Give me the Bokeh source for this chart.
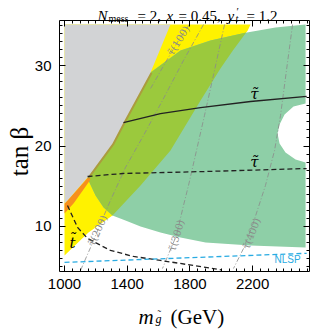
import math
from bokeh.plotting import figure
from bokeh.models import LinearAxis, FixedTicker, CustomJSTickFormatter
from bokeh.embed import file_html
from bokeh.resources import INLINE
from bokeh.core.properties import value

# ---------------- data (gluino mass [GeV], tan beta) ----------------
BOX_X = (968, 2563)          # plotted range of m_gluino
BOX_Y = (4.4, 35.6)          # plotted range of tan beta
X_TICKS = [1000, 1400, 1800, 2200]
Y_TICKS = [10, 20, 30]
X_MINOR = list(range(1000, 2561, 50))
Y_MINOR = list(range(5, 36))

# excluded (gray) region boundary
gray_x = [1000, 1676, 1549, 1376, 1306, 1147, 1019, 1000]
gray_y = [35.1, 35.1, 29.13, 22.92, 20.31, 16.09, 13.23, 12.86]

# orange strip below the gray region
orange_x = [1160, 1019, 1000, 1000, 1060, 1165]
orange_y = [16.3, 13.23, 12.86, 11.6, 12.9, 15.8]

# yellow region
yellow_x = [1000, 2187, 2168, 2074, 1995, 1868, 1676, 1485, 1306, 1153, 1000]
yellow_y = [35.1, 35.1, 34.34, 31.86, 29.62, 25.65, 19.44, 15.09, 11.37, 9.25, 6.40]

# green region (with notch at the right)
green_x = [1549, 1740, 1931, 2155, 2346, 2538,
           2538, 2461, 2404, 2372, 2359, 2372, 2410, 2474, 2538,
           2538, 2187, 1900, 1740, 1612, 1485, 1389, 1306,
           1249, 1198, 1147, 1306, 1376]
green_y = [29.13, 31.86, 33.10, 34.09, 34.72, 35.09,
           25.28, 24.90, 23.91, 22.67, 21.55, 20.31, 19.19, 18.32, 17.95,
           7.39, 7.64, 8.01, 8.63, 9.25, 10.0, 10.75, 11.37,
           12.36, 13.85, 15.96, 20.31, 22.92]

# overlap of yellow and green (olive)
olive_x = [1549, 1740, 1931, 2159, 2074, 1995, 1868, 1676, 1485, 1306,
           1249, 1198, 1147, 1306, 1376]
olive_y = [29.13, 31.86, 33.10, 34.11, 31.86, 29.62, 25.65, 19.44, 15.09, 11.37,
           12.36, 13.85, 15.96, 20.31, 22.92]

edge_x = [1147, 1306, 1376, 1549]
edge_y = [16.09, 20.31, 22.92, 29.13]

# stau lines
stau_solid_x = [1376, 1612, 1868, 2187, 2545]
stau_solid_y = [22.92, 24.03, 24.78, 25.53, 26.18]
stau_dash_x = [1147, 1370, 1900, 2545]
stau_dash_y = [16.21, 16.58, 16.83, 17.2]

# stop line
stop_x = [1019, 1083, 1147, 1293, 1440, 1612, 1900, 2000]
stop_y = [12.61, 9.88, 8.51, 7.02, 6.27, 5.78, 4.91, 4.6]

# NLSP line
nlsp_x = [1000, 2545]
nlsp_y = [5.53, 6.66]

# contour lines
c100_x = [1797, 1727, 1644, 1549]
c100_y = [35.10, 33.11, 30.38, 27.15]
c200_x = [1887, 1759, 1625, 1504, 1389, 1293, 1230, 1166, 1102]
c200_y = [35.10, 30.63, 25.66, 21.31, 17.33, 13.23, 10.37, 7.38, 4.53]
c300_x = [2021, 1957, 1893, 1842, 1791, 1759, 1714, 1625]
c300_y = [35.10, 29.39, 23.79, 19.44, 15.09, 12.60, 8.88, 4.77]
c400_x = [2455, 2416, 2378, 2340, 2282, 2199, 2142, 2078]
c400_y = [35.10, 29.39, 23.79, 19.44, 15.09, 10.12, 7.26, 4.77]

contour_labels = ["τ̃(100)", "τ̃(200)", "τ̃(300)", "τ̃(400)"]
contour_lab_x = [1727, 1211, 1714, 2193]
contour_lab_y = [33.11, 9.5, 8.88, 9.12]
contour_lab_angle = [58, 65, 73, 69]

GRAY = "#d2d3d5"
YELLOW = "#fff200"
OLIVE = "#9bc93d"
TEAL = "#8ecfa7"
ORANGE = "#f7901e"

# layout in canvas px: the box occupies x 59..309, y 20..271 of the 311x329 figure
KX = (BOX_X[1] - BOX_X[0]) / 250.0
KY = (BOX_Y[1] - BOX_Y[0]) / 251.0

def px2x(px):
    return BOX_X[0] + (px - 59) * KX

def py2y(py):
    return BOX_Y[1] - (py - 20) * KY

W, H = 311, 329
p = figure(width=W, height=H, x_range=(px2x(0), px2x(W)), y_range=(py2y(H), py2y(0)),
           output_backend="svg", toolbar_location=None, title=None,
           x_axis_location=None, y_axis_location=None,
           min_border_left=0, min_border_right=0, min_border_top=0, min_border_bottom=0)
p.grid.visible = False
p.outline_line_color = None
p.background_fill_color = "white"
p.border_fill_color = "white"

blank = CustomJSTickFormatter(code="return ''")

def make_axis(ticks, minor, loc, bounds, labels):
    a = LinearAxis(ticker=FixedTicker(ticks=ticks, minor_ticks=minor), fixed_location=loc,
                   bounds=bounds, major_tick_in=6, major_tick_out=0,
                   minor_tick_in=3, minor_tick_out=0, axis_line_color="black",
                   major_tick_line_color="black", minor_tick_line_color="black",
                   major_label_text_font="Liberation Sans",
                   major_label_text_font_size="15px", major_label_text_color="black")
    if not labels:
        a.formatter = blank
        a.major_label_text_font_size = "0px"
    return a

ax_b = make_axis(X_TICKS, X_MINOR, BOX_Y[0], BOX_X, True)
ax_b.major_label_standoff = 7
ax_t = make_axis(X_TICKS, X_MINOR, BOX_Y[1], BOX_X, False)
ax_l = make_axis(Y_TICKS, Y_MINOR, BOX_X[0], BOX_Y, True)
ax_l.major_label_standoff = 8
ax_r = make_axis(Y_TICKS, Y_MINOR, BOX_X[1], BOX_Y, False)
p.add_layout(ax_b, "below")
p.add_layout(ax_t, "above")
p.add_layout(ax_l, "left")
p.add_layout(ax_r, "right")

# regions
p.patch(yellow_x, yellow_y, fill_color=YELLOW, line_color=None)
p.patch(green_x, green_y, fill_color=TEAL, line_color=None)
p.patch(olive_x, olive_y, fill_color=OLIVE, line_color=None)
p.patch(orange_x, orange_y, fill_color=ORANGE, line_color=None)
p.line(edge_x, edge_y, line_color="#ab9c3e", line_width=4)

# contours
for cx, cy in ((c100_x, c100_y), (c200_x, c200_y), (c300_x, c300_y), (c400_x, c400_y)):
    p.line(cx, cy, line_color="#8a8a8a", line_width=0.8, line_dash="5 2 1 2")

p.patch(gray_x, gray_y, fill_color=GRAY, line_color=None)

p.line(stau_solid_x, stau_solid_y, line_color="#222222", line_width=1.3)
p.line(stau_dash_x, stau_dash_y, line_color="#222222", line_width=1.3, line_dash="5 3")
p.line(stop_x, stop_y, line_color="#222222", line_width=1.3, line_dash="5 3")
p.line(nlsp_x, nlsp_y, line_color="#29abe2", line_width=1.3, line_dash="5 3")

for t, x, y, a in zip(contour_labels, contour_lab_x, contour_lab_y, contour_lab_angle):
    p.text(x=[x], y=[y], text=[t], angle=math.radians(a), text_font=value("DejaVu Serif"),
           text_font_size="10px", text_color="#8a8a8a", text_align="center",
           text_baseline="middle")

def txt(text, x, y, size, style="normal", font="Liberation Serif", color="black",
        align="left", baseline="alphabetic", angle=0.0):
    p.text(x=[x], y=[y], text=[text], text_font=value(font), text_font_style=style,
           text_font_size=size, text_color=color, text_align=align,
           text_baseline=baseline, angle=angle)

txt("τ̃", 2212, 26.5, "15px", "italic", "DejaVu Serif", align="center", baseline="middle")
txt("τ̃", 2212, 17.95, "15px", "italic", "DejaVu Serif", align="center", baseline="middle")
txt("t̃", 1051, 8.0, "15px", "italic", "DejaVu Serif", align="center", baseline="middle")
txt("NLSP", 2423, 5.9, "10px", font="Liberation Sans", color="#29abe2",
    align="center", baseline="middle")

# title pieces (canvas px positions)
txt("N", px2x(97), py2y(15), "15px", "italic")
txt("mess", px2x(108), py2y(18), "10px")
txt("= 2,", px2x(137), py2y(15), "15px")
txt("x", px2x(166), py2y(15), "15px", "italic")
txt("= 0.45,", px2x(178), py2y(15), "15px")
txt("y", px2x(227), py2y(15), "15px", "italic")
txt("′", px2x(236), py2y(10), "11px")
txt("t", px2x(235), py2y(18), "10px", "italic")
txt("= 1.2", px2x(246), py2y(15), "15px")

# x axis label
txt("m", px2x(138), py2y(316), "21px", "italic")
txt("g", px2x(155), py2y(318), "12px", "italic")
txt("˜", px2x(157), py2y(313), "11px")
txt("(GeV)", px2x(170), py2y(316), "21px")

# y axis label
txt("tan β", px2x(19), py2y(151), "25px", align="center", baseline="middle",
    angle=math.pi / 2)

open("out.html", "w").write(file_html(p, INLINE))
